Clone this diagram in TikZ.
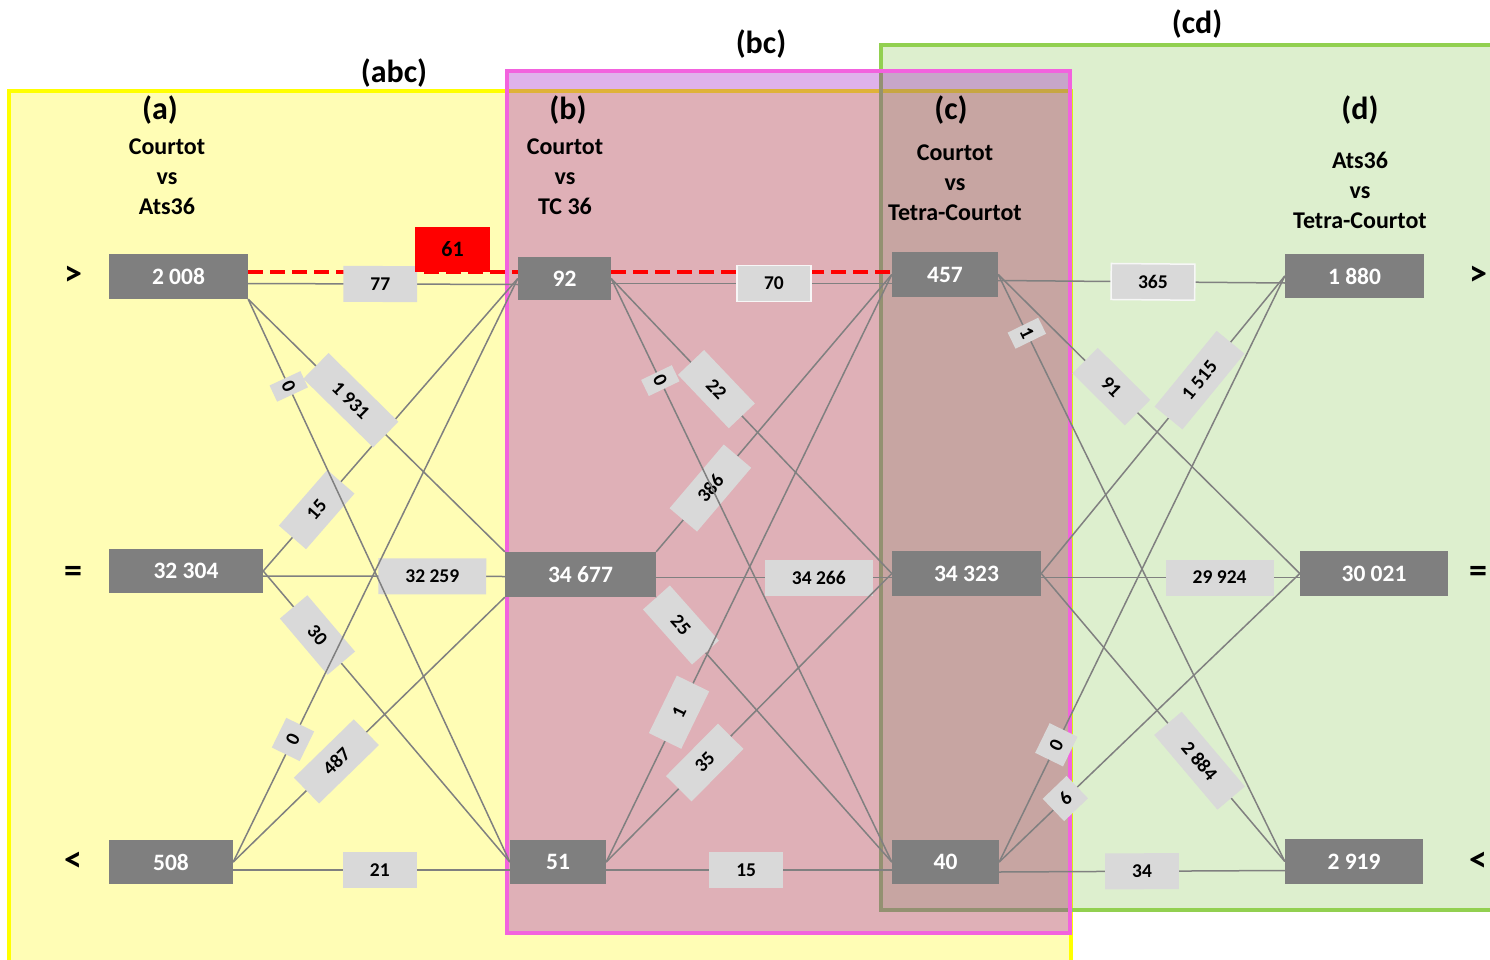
\documentclass[tikz,border=0pt]{standalone}
\usepackage{fontspec}
\setmainfont{Carlito}
\usetikzlibrary{positioning}
\definecolor{abcfill}{RGB}{255,253,181}
\definecolor{abcedge}{RGB}{255,255,0}
\definecolor{bcfill}{RGB}{150,0,190}
\definecolor{bcedge}{RGB}{242,98,222}
\definecolor{cdfill}{RGB}{120,190,60}
\definecolor{cdedge}{RGB}{146,208,80}
\definecolor{boxgray}{RGB}{127,127,127}
\definecolor{lblgray}{RGB}{217,217,217}
\definecolor{linegray}{RGB}{128,128,128}
\tikzset{
  count-box/.style={fill=boxgray, text=white, font=\bfseries\fontsize{23.5}{23.5}\selectfont,
    minimum height=45pt, inner sep=0pt},
  alert-box/.style={fill=red, font=\bfseries\fontsize{22}{22}\selectfont,
    minimum width=75pt, minimum height=45pt, inner sep=0pt},
  edge-label/.style={fill=lblgray, font=\bfseries\fontsize{19.5}{19.5}\selectfont,
    minimum height=36pt, inner xsep=27pt, inner ysep=0pt, sloped},
  edge-label-rim/.style={edge-label, draw=white!80!lblgray, line width=1.5pt},
  edge-label-small/.style={edge-label, inner xsep=4pt, minimum height=34pt},
  edge-label-sq/.style={edge-label, inner xsep=2pt, minimum width=33pt, minimum height=31pt},
  link/.style={draw=linegray, line width=1.5pt},
  alarm-dash/.style={draw=red, line width=4pt, dash pattern=on 15pt off 7pt},
  head/.style={font=\bfseries\fontsize{32}{32}\selectfont, inner sep=0pt},
  pair/.style={font=\bfseries\fontsize{24}{30}\selectfont, align=center, inner sep=0pt},
  relation/.style={font=\bfseries\fontsize{36}{36}\selectfont, inner sep=0pt}
}
\begin{document}
\begin{tikzpicture}[x=1pt, y=-1pt]
  \useasboundingbox (0,0) rectangle (1490,960);
  % Frames (abc), (cd), (bc)
  \draw[draw=abcedge, fill=abcfill, line width=4pt] (9,91) rectangle (1071,975);
  \draw[draw=cdedge, fill=cdfill, fill opacity=0.25, line width=4pt] (881,45) rectangle (1500,910);
  \draw[draw=bcedge, fill=bcfill, fill opacity=0.3, line width=4pt] (507,71) rectangle (1070,933);

  % Titles
  \node[head] (h-abc) at (394,73) {(abc)};
  \node[head] (h-bc) at (761,44) {(bc)};
  \node[head] (h-cd) at (1197,24) {(cd)};
  \node[head] (h-a) at (160,110) {(a)};
  \node[head] (h-b) at (568,110) {(b)};
  \node[head] (h-c) at (951,110) {(c)};
  \node[head] (h-d) at (1360,110) {(d)};
  \node[pair] (p-a) at (167,177) {Courtot\\vs\\Ats36};
  \node[pair] (p-b) at (565,177) {Courtot\\vs\\TC 36};
  \node[pair] (p-c) at (955,183) {Courtot\\vs\\Tetra-Courtot};
  \node[pair] (p-d) at (1360,190) {Ats36\\vs\\Tetra-Courtot};

  % Row signs
  \node[relation] (r-gt-l) at (73,276) {>};
  \node[relation] (r-eq-l) at (73,574) {=};
  \node[relation] (r-lt-l) at (73,862) {<};
  \node[relation] (r-gt-r) at (1478,276) {>};
  \node[relation] (r-eq-r) at (1478,574) {=};
  \node[relation] (r-lt-r) at (1478,862) {<};

  % Counts
  \node[count-box, minimum width=139pt] (A1) at (178.5,276.5) {2 008};
  \node[count-box, minimum width=154pt, minimum height=44pt] (A2) at (186,571) {32 304};
  \node[count-box, minimum width=124pt, minimum height=44pt] (A3) at (171,862) {508};
  \node[count-box, minimum width=93pt, minimum height=43pt] (B1) at (564.5,278.5) {92};
  \node[count-box, minimum width=151pt] (B2) at (580.5,574.5) {34 677};
  \node[count-box, minimum width=96pt, minimum height=44pt] (B3) at (558,862) {51};
  \node[count-box, minimum width=106pt] (C1) at (945,274.5) {457};
  \node[count-box, minimum width=149pt] (C2) at (966.5,573.5) {34 323};
  \node[count-box, minimum width=107pt, minimum height=44pt] (C3) at (945.5,862) {40};
  \node[count-box, minimum width=139pt, minimum height=44pt] (D1) at (1354.5,276) {1 880};
  \node[count-box, minimum width=148pt] (D2) at (1374,573.5) {30 021};
  \node[count-box, minimum width=138pt] (D3) at (1354,861.5) {2 919};

  % Red dashed line across the top row
  \draw[alarm-dash] ([yshift=4.5pt]A1.east) -- ([yshift=6.5pt]B1.west);
  \draw[alarm-dash] ([yshift=6.5pt]B1.east) -- ([yshift=2.5pt]C1.west);

  % (a) -> (b)
  \draw[link] (A2.east) -- node[edge-label, pos=.21] (ab21) {15} (B1.west);
  \draw[link] ([yshift=-5pt]A2.east) -- node[edge-label, pos=.70] (ab22) {32 259} ([yshift=-2pt]B2.west);
  \draw[link] (A2.east) -- node[edge-label, pos=.22] (ab23) {30} (B3.west);
  \draw[link] (A3.east) -- node[edge-label-sq, pos=.21] (ab31) {0} (B1.west);
  \draw[link] (A3.east) -- node[edge-label, pos=.38] (ab32) {487} (B2.south west);
  \draw[link] ([yshift=-8pt]A3.east) -- node[edge-label, pos=.53] (ab33) {21} ([yshift=-8pt]B3.west);
  \draw[link] ([yshift=-7pt]A1.east) -- node[edge-label, pos=.49] (ab11) {77} ([yshift=-6pt]B1.west);
  \draw[link] (A1.south east) -- node[edge-label, pos=.40] (ab12) {1 931} (B2.north west);
  \draw[link] (A1.south east) -- node[edge-label-small, pos=.155] (ab13) {0} (B3.west);

  % (b) -> (c)
  \draw[link] (B2.north east) -- node[edge-label, pos=.23] (bc21) {386} (C1.west);
  \draw[link] ([yshift=-3pt]B2.east) -- node[edge-label, pos=.69] (bc22) {34 266} ([yshift=-4pt]C2.west);
  \draw[link] (B2.south east) -- node[edge-label, pos=.105] (bc23) {25} (C3.west);
  \draw[link] ([yshift=-5pt]B1.east) -- node[edge-label-rim, pos=.58] (bc11) {70} ([yshift=-9pt]C1.west);
  \draw[link] (B1.east) -- node[edge-label, pos=.375] (bc12) {22} (C2.west);
  \draw[link] (B1.east) -- node[edge-label-small, pos=.175] (bc13) {0} (C3.west);
  \draw[link] (B3.east) -- node[edge-label, pos=.255] (bc31) {1} (C1.west);
  \draw[link] (B3.east) -- node[edge-label, pos=.345] (bc32) {35} (C2.west);
  \draw[link] ([yshift=-8pt]B3.east) -- node[edge-label, pos=.49] (bc33) {15} ([yshift=-8pt]C3.west);

  % (c) -> (d)
  \draw[link] ([yshift=-6pt]C1.east) -- node[edge-label-rim, pos=.54] (cd11) {365} ([yshift=-7pt]D1.west);
  \draw[link] (C1.east) -- node[edge-label, pos=.375] (cd12) {91} (D2.west);
  \draw[link] (C1.east) -- node[edge-label-small, pos=.10] (cd13) {1} (D3.west);
  \draw[link] (C2.east) -- node[edge-label, pos=.65] (cd21) {1 515} (D1.west);
  \draw[link] ([yshift=-4pt]C2.east) -- node[edge-label, pos=.69] (cd22) {29 924} ([yshift=-4pt]D2.west);
  \draw[link] (C2.east) -- node[edge-label, pos=.65] (cd23) {2 884} (D3.west);
  \draw[link] (C3.east) -- node[edge-label-sq, pos=.20] (cd31) {0} (D1.west);
  \draw[link] (C3.east) -- node[edge-label-sq, pos=.22] (cd32) {6} (D2.west);
  \draw[link] ([yshift=-10pt]C3.east) -- node[edge-label, pos=.50] (cd33) {34} ([yshift=-9pt]D3.west);

  % Shared count
  \node[alert-box] (n61) at (452.5,249.5) {61};
\end{tikzpicture}
\end{document}
